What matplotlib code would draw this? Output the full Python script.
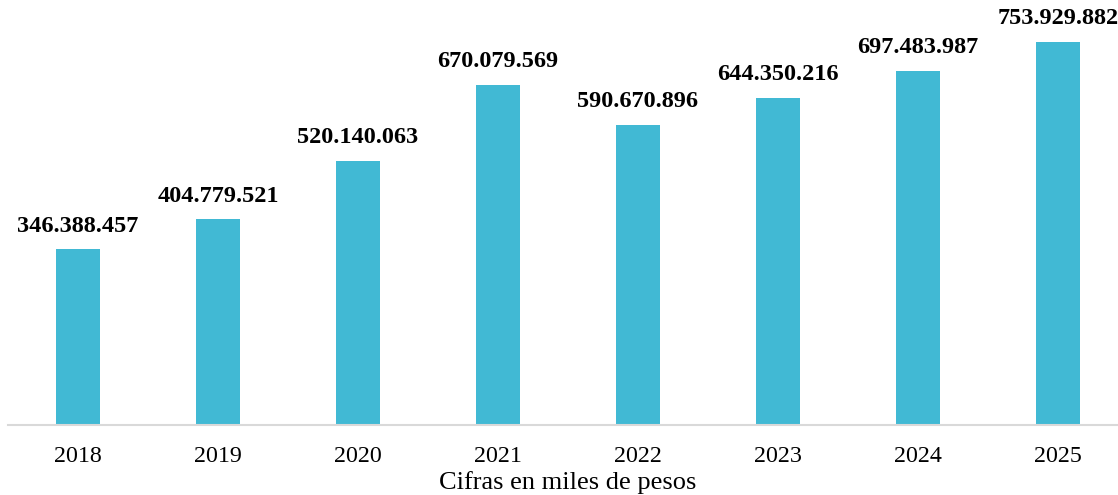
import matplotlib
matplotlib.use('Agg')
import matplotlib.pyplot as plt

# data (miles de pesos)
years = ['2018', '2019', '2020', '2021', '2022', '2023', '2024', '2025']
values = [346388457, 404779521, 520140063, 670079569, 590670896, 644350216, 697483987, 753929882]
labels = ['346.388.457', '404.779.521', '520.140.063', '670.079.569',
          '590.670.896', '644.350.216', '697.483.987', '753.929.882']

plt.rcParams['font.family'] = ['Liberation Serif', 'DejaVu Serif']

fig = plt.figure(figsize=(11.18, 4.95), dpi=100)
ax = fig.add_axes([8 / 1118, 70 / 495, 1120 / 1118, 425 / 495])

x = range(len(years))
ax.bar(x, values, width=0.314, color='#41B9D4')

for i, (v, lab) in enumerate(zip(values, labels)):
    ax.annotate(lab, (i, v), xytext=(0, 9), textcoords='offset points',
                ha='center', va='bottom', fontsize=17.5, fontweight='bold')

ax.set_xlim(-0.5, 7.5)
ax.set_ylim(0, 836.6e6)
ax.set_xticks(list(x))
ax.set_xticklabels(years, fontsize=17.3)
ax.tick_params(axis='x', length=0, pad=15)
ax.set_yticks([])
for s in ['top', 'right', 'left']:
    ax.spines[s].set_visible(False)
ax.spines['bottom'].set_color('#D9D9D9')
ax.spines['bottom'].set_linewidth(1.5)
ax.set_xlabel('Cifras en miles de pesos', fontsize=19, labelpad=3)

fig.savefig('out.png', dpi=100)
